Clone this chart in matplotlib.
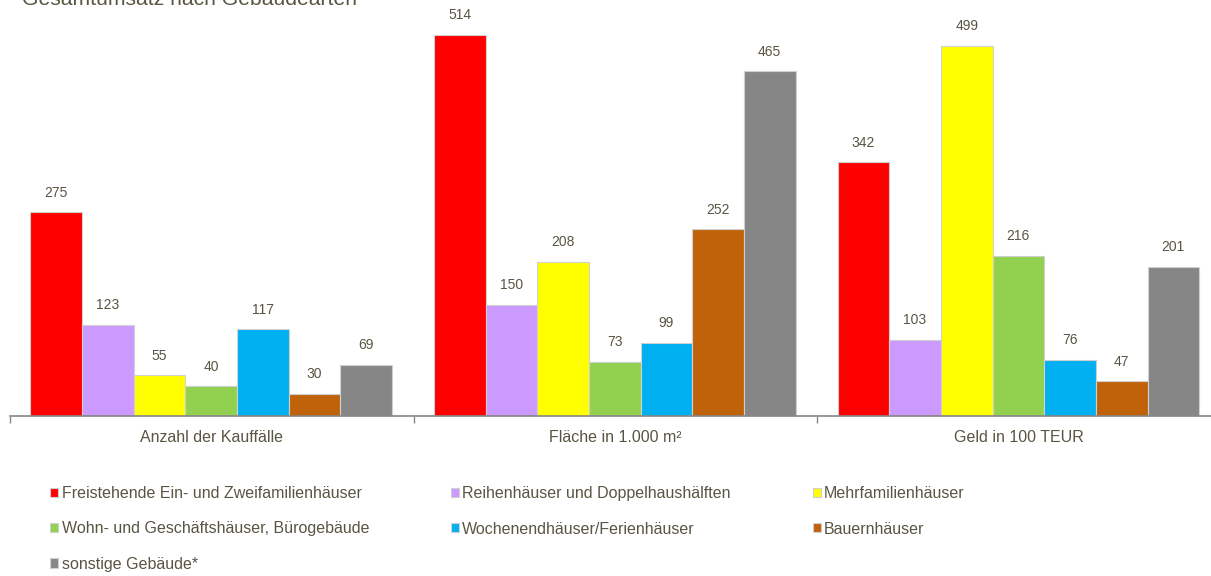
import numpy as np
import matplotlib.pyplot as plt

plt.rcParams['font.family'] = ['Liberation Sans', 'DejaVu Sans']

# data
kategorien = ['Anzahl der Kauffälle', 'Fläche in 1.000 m²', 'Geld in 100 TEUR']
gebaeude = ['Freistehende Ein- und Zweifamilienhäuser', 'Reihenhäuser und Doppelhaushälften',
            'Mehrfamilienhäuser', 'Wohn- und Geschäftshäuser, Bürogebäude',
            'Wochenendhäuser/Ferienhäuser', 'Bauernhäuser', 'sonstige Gebäude*']
werte = [
    [275, 514, 342],
    [123, 150, 103],
    [55, 208, 499],
    [40, 73, 216],
    [117, 99, 76],
    [30, 252, 47],
    [69, 465, 201],
]
farben = ['#ff0000', '#cc99ff', '#ffff00', '#92d050', '#00b0f0', '#c0620a', '#868686']

W, H = 1211, 576
fig = plt.figure(figsize=(W / 100, H / 100), dpi=100)
ax = fig.add_axes([10 / W, 1 - 416 / H, 1211 / W, 416 / H])

txtcol = '#595543'
bw = 0.128
x = np.arange(len(kategorien))
handles = []
for i, (name, vals, c) in enumerate(zip(gebaeude, werte, farben)):
    pos = x + 0.05 + i * bw
    bars = ax.bar(pos, vals, width=bw, align='edge', color=c, edgecolor='#d0d0d0',
                  linewidth=0.8, label=name)
    handles.append(bars)
    for b, v in zip(bars, vals):
        ax.annotate(str(v), (b.get_x() + bw / 2, v), textcoords='offset points',
                    xytext=(0, 9), ha='center', va='bottom', fontsize=10, color=txtcol)

ax.set_xlim(0, 3)
ax.set_ylim(0, 561)
for s in ['top', 'right', 'left']:
    ax.spines[s].set_visible(False)
ax.spines['bottom'].set_color('#868686')
ax.spines['bottom'].set_linewidth(1.2)
ax.set_yticks([])
ax.set_xticks([0, 1, 2, 3])
ax.set_xticklabels([])
ax.set_xticks(x + 0.5, minor=True)
ax.set_xticklabels(kategorien, minor=True, fontsize=11.5, color=txtcol)
ax.tick_params(axis='x', which='major', length=5, color='#868686', width=1)
ax.tick_params(axis='x', which='minor', length=0, pad=10)

fig.text(22 / W, 1 - 5 / H, 'Gesamtumsatz nach Gebäudearten', fontsize=15.2,
         color=txtcol, va='baseline', ha='left')

# row-wise order in a 3-column legend
order = [0, 3, 6, 1, 4, 2, 5]
leg = fig.legend([handles[k] for k in order], [gebaeude[k] for k in order],
                 loc='upper left', bbox_to_anchor=(36 / W, 1 - 472 / H), ncol=3,
                 frameon=False, fontsize=11.5, handlelength=0.5, handleheight=0.5,
                 handletextpad=0.2, columnspacing=5.13, labelspacing=1.26)
for t in leg.get_texts():
    t.set_color(txtcol)

fig.savefig('out.png', dpi=100)
